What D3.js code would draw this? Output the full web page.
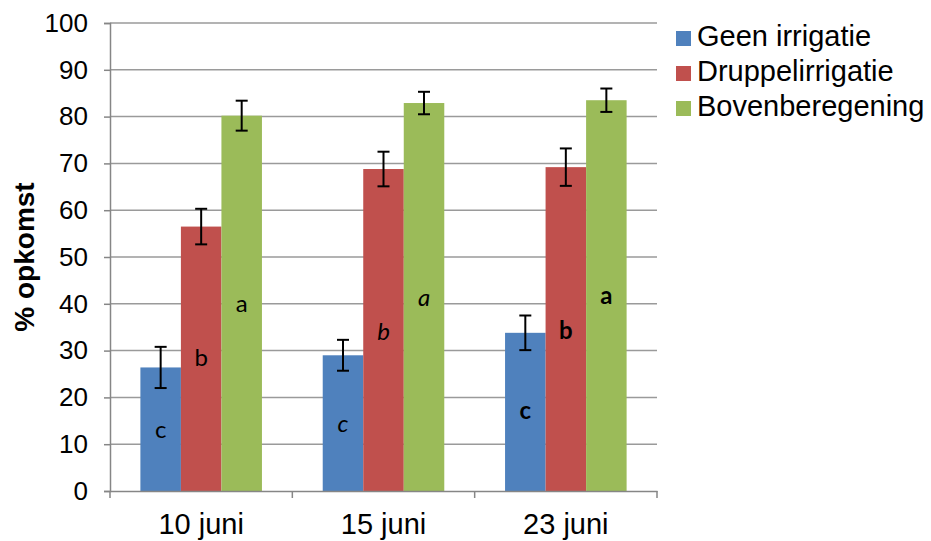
<!DOCTYPE html>
<html>
<head>
<meta charset="utf-8">
<script src="https://cdn.jsdelivr.net/npm/d3@7"></script>
<style>
  body { margin: 0; background: #fff; }
  svg { display: block; }
</style>
</head>
<body>
<div id="chart"></div>
<script>
// === Data ===
const categories = ["10 juni", "15 juni", "23 juni"];
const series = ["Geen irrigatie", "Druppelirrigatie", "Bovenberegening"];
const colors = ["#4F81BD", "#C0504D", "#9BBB59"];
const values = [
  [26.4, 56.5, 80.2],
  [29.0, 68.8, 82.9],
  [33.8, 69.2, 83.5]
];
const errors = [
  [4.4, 3.8, 3.2],
  [3.3, 3.7, 2.4],
  [3.7, 4.0, 2.5]
];
// significance letters and where they sit (in % units)
const letters = [
  ["c", "b", "a"],
  ["c", "b", "a"],
  ["c", "b", "a"]
];
const letterY = [
  [12.6, 28.0, 39.5],
  [13.9, 33.5, 40.8],
  [16.7, 33.8, 41.2]
];
const letterStyle = ["normal", "italic", "bold"];
const yTicks = d3.range(0, 101, 10);

// === Dimensions ===
const width = 931, height = 541;
const margin = { left: 110, right: 274, top: 23, bottom: 50 };
const plotW = width - margin.left - margin.right;
const plotH = height - margin.top - margin.bottom;

const svg = d3.select("#chart").append("svg")
  .attr("width", width).attr("height", height);

const g = svg.append("g")
  .attr("transform", `translate(${margin.left},${margin.top})`);

// === Scales ===
const x0 = d3.scaleBand().domain(categories).range([0, plotW]).padding(0);
const x1 = d3.scaleBand().domain(series).range([0, x0.bandwidth()])
  .paddingInner(0).paddingOuter(0.75);
const y = d3.scaleLinear().domain([0, 100]).range([plotH, 0]);

// === Gridlines ===
g.append("g").selectAll("line")
  .data(yTicks.filter(d => d > 0))
  .join("line")
  .attr("x1", 0).attr("x2", plotW)
  .attr("y1", d => y(d)).attr("y2", d => y(d))
  .attr("stroke", "#9a9a9a").attr("stroke-width", 1.5);

// === Bars ===
const groups = g.append("g").selectAll("g")
  .data(categories)
  .join("g")
  .attr("transform", d => `translate(${x0(d)},0)`);

groups.each(function (cat, ci) {
  const grp = d3.select(this);
  series.forEach((s, si) => {
    const v = values[ci][si];
    const e = errors[ci][si];
    const cx = x1(s) + x1.bandwidth() / 2;
    grp.append("rect")
      .attr("x", x1(s)).attr("width", x1.bandwidth())
      .attr("y", y(v)).attr("height", y(0) - y(v))
      .attr("fill", colors[si]);
    // error bar
    const eb = grp.append("g").attr("stroke", "#000").attr("stroke-width", 2);
    eb.append("line").attr("x1", cx).attr("x2", cx).attr("y1", y(v + e)).attr("y2", y(v - e));
    eb.append("line").attr("x1", cx - 6).attr("x2", cx + 6).attr("y1", y(v + e)).attr("y2", y(v + e));
    eb.append("line").attr("x1", cx - 6).attr("x2", cx + 6).attr("y1", y(v - e)).attr("y2", y(v - e));
    // letter
    grp.append("text")
      .attr("x", cx).attr("y", y(letterY[ci][si]))
      .attr("text-anchor", "middle").attr("dominant-baseline", "middle")
      .attr("font-family", "Lato, 'Open Sans', sans-serif")
      .attr("font-size", 24)
      .attr("font-style", letterStyle[ci] === "italic" ? "italic" : "normal")
      .attr("font-weight", letterStyle[ci] === "bold" ? "bold" : "normal")
      .attr("fill", "#000")
      .text(letters[ci][si]);
  });
});

// === Axes ===
const font = "'Liberation Sans', Arial, sans-serif";
const yAxis = g.append("g")
  .call(d3.axisLeft(y).tickValues(yTicks).tickSize(6).tickPadding(16));
const xAxis = g.append("g")
  .attr("transform", `translate(0,${plotH})`)
  .call(d3.axisBottom(x0).tickSize(0).tickPadding(22));

[yAxis, xAxis].forEach(ax => {
  ax.select(".domain").attr("stroke", "#868686").attr("stroke-width", 1.5);
  ax.selectAll(".tick line").attr("stroke", "#868686").attr("stroke-width", 1.5);
  ax.selectAll("text").attr("font-family", font).attr("fill", "#000");
});
yAxis.selectAll("text").attr("font-size", 26);
xAxis.selectAll("text").attr("font-size", 29);

// x tick marks at category boundaries
xAxis.append("g").selectAll("line")
  .data(d3.range(categories.length + 1))
  .join("line")
  .attr("x1", i => i * x0.step()).attr("x2", i => i * x0.step())
  .attr("y1", 0).attr("y2", 7)
  .attr("stroke", "#868686").attr("stroke-width", 1.5);

// === Y title ===
svg.append("text")
  .attr("transform", `translate(27,${margin.top + plotH / 2}) rotate(-90)`)
  .attr("text-anchor", "middle").attr("dominant-baseline", "middle")
  .attr("font-family", font).attr("font-size", 28).attr("font-weight", "bold")
  .text("% opkomst");

// === Legend ===
const legend = svg.append("g").attr("transform", "translate(676,38)");
series.forEach((s, i) => {
  const row = legend.append("g").attr("transform", `translate(0,${i * 35})`);
  row.append("rect").attr("x", 0).attr("y", -7).attr("width", 15).attr("height", 15)
    .attr("fill", colors[i]);
  row.append("text").attr("x", 21).attr("y", 0)
    .attr("dominant-baseline", "middle")
    .attr("font-family", font).attr("font-size", 29)
    .text(s);
});
</script>
</body>
</html>
